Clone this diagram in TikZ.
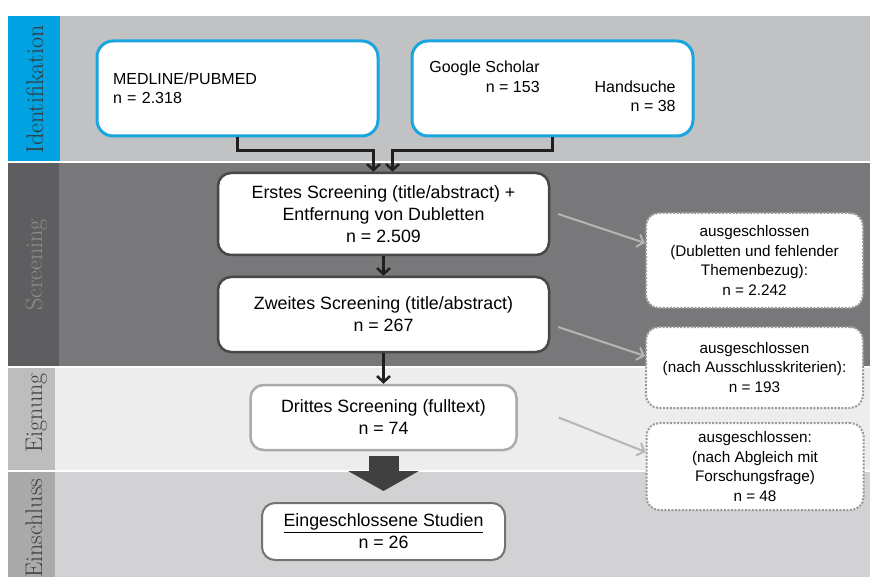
\documentclass[tikz,border=0pt]{standalone}
\usepackage{fontspec}
\setsansfont{Liberation Sans}
\usepackage{tikz}
\usetikzlibrary{arrows.meta,positioning}

\definecolor{idblau}{HTML}{00A2E1}
\definecolor{rahmenblau}{HTML}{1BA5DE}
\definecolor{idgrau}{HTML}{C1C2C4}
\definecolor{scrgrau}{HTML}{78787A}
\definecolor{scrlabel}{HTML}{5E5E60}
\definecolor{eiggrau}{HTML}{EDEDED}
\definecolor{eiglabel}{HTML}{BDBDBD}
\definecolor{eingrau}{HTML}{D2D2D4}
\definecolor{einlabel}{HTML}{AAAAAB}

\begin{document}
\begin{tikzpicture}[x=1pt,y=-1pt,>={Straight Barb[length=6pt,width=13pt]},semithick]
	\tikzstyle{quelle}=[draw=rahmenblau, line width=3pt, rounded corners=16pt, fill=white, font=\sffamily\fontsize{16}{19.5}\selectfont, minimum width=281pt, minimum height=95pt, inner xsep=16pt]
	\tikzstyle{schritt}=[draw=black!72, line width=2.5pt, rounded corners=13pt, fill=white, align=center, font=\sffamily\fontsize{17.8}{22}\selectfont]
	\tikzstyle{raus}=[draw=black!40, line width=2pt, dash pattern=on 2pt off 1.5pt, rounded corners=13pt, fill=white, align=center, font=\sffamily\fontsize{15.3}{19.5}\selectfont, minimum width=217pt]
	\tikzstyle{phase}=[rotate=90, anchor=base, font=\fontsize{24}{24}\selectfont]
	\tikzstyle{fluss}=[->, draw=black!88, line width=2.5pt]
	\tikzstyle{weg}=[->, draw=black!29, line width=2pt]

	\clip (0,0) rectangle (870,577);

	% Phasen
	\fill[idgrau] (8,16) rectangle (870,161);
	\fill[idblau] (8,16) rectangle (60,161);
	\fill[scrgrau] (8,163.5) rectangle (870,365.5);
	\fill[scrlabel] (8,163.5) rectangle (59,365.5);
	\fill[eiggrau] (8,368) rectangle (870,469.5);
	\fill[eiglabel] (8,368) rectangle (55,469.5);
	\fill[eingrau] (8,472) rectangle (870,577);
	\fill[einlabel] (8,472) rectangle (55,577);

	\node[phase, text=black!78] (pid)  at (43,89.5) {Identifikation};
	\node[phase, text=black!45] (pscr) at (42,265)  {Screening};
	\node[phase, text=black!75] (peig) at (42,413)  {Eignung};
	\node[phase, text=black!75] (pein) at (42,528)  {Einschluss};

	% Quellen
	\node[quelle, text width=249pt, align=left] (medline) at (237.5,88.5) {MEDLINE/PUBMED\\n = 2.318};
	\node[quelle] (google) at (552.5,88.5) {\begin{tabular}{@{}r@{\hspace{55pt}}r@{}}Google Scholar & \\ n = 153 & Handsuche\\ & n = 38\end{tabular}};

	% Screening-Schritte
	\node[schritt, minimum width=331pt, minimum height=82pt] (erstes)  at (383.5,214)   {Erstes Screening (title/abstract) +\\Entfernung von Dubletten\\n = 2.509};
	\node[schritt, minimum width=331pt, minimum height=75pt] (zweites) at (383.5,314.5) {Zweites Screening (title/abstract)\\n = 267};
	\node[schritt, draw=black!33, minimum width=266pt, minimum height=65pt] (drittes) at (383.5,417.5) {Drittes Screening (fulltext)\\n = 74};
	\node[schritt, draw=black!55, line width=2pt, minimum width=243pt, minimum height=57pt] (einge) at (383.5,531.5) {\underline{Eingeschlossene Studien}\\n = 26};

	% Ausschluesse
	\node[raus, minimum height=95pt] (aus1) at (754.5,260.5) {ausgeschlossen\\(Dubletten und fehlender\\Themenbezug):\\n = 2.242};
	\node[raus, minimum height=81pt] (aus2) at (754.5,367.5) {ausgeschlossen\\(nach Ausschlusskriterien):\\n = 193};
	\node[raus, minimum height=87pt] (aus3) at (755,466.5)   {ausgeschlossen:\\(nach Abgleich mit\\Forschungsfrage)\\n = 48};

	\draw[fluss] (medline.south) -- ++(0,13) -| ([xshift=-10pt]erstes.north);
	\draw[fluss] (google.south) -- ++(0,13) -| ([xshift=9pt]erstes.north);
	\path (erstes) edge[fluss] (zweites);
	\path (zweites) edge[fluss] (drittes);
	\path (drittes) edge[draw=black!75, line width=30pt, -{Triangle[length=20pt,width=70pt]}, shorten <=5pt, shorten >=11pt] (einge);

	\draw[weg] ([xshift=8pt]erstes.east) -- ([yshift=17.5pt]aus1.west);
	\draw[weg] ([xshift=8pt,yshift=-12.5pt]zweites.east) -- ([yshift=11.5pt]aus2.west);
	\draw[weg] ([xshift=41pt]drittes.east) -- ([yshift=14.5pt]aus3.west);
\end{tikzpicture}
\end{document}
